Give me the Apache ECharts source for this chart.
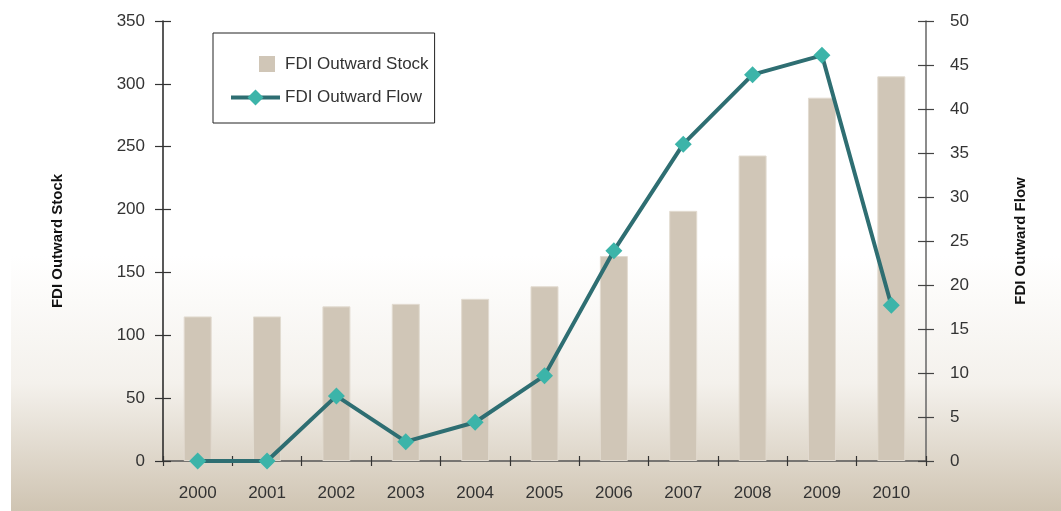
<!DOCTYPE html>
<html>
<head>
<meta charset="utf-8">
<script src="https://cdn.jsdelivr.net/npm/echarts@6/dist/echarts.min.js"></script>
<style>
html,body{margin:0;padding:0;background:#fff;}
#c{width:1061px;height:511px;}
</style>
</head>
<body>
<div id="c"></div>
<script>
var years = ['2000','2001','2002','2003','2004','2005','2006','2007','2008','2009','2010'];
var stockValues = [115, 115, 123, 125, 129, 139, 163, 199, 243, 289, 306];
var flowValues = [0, 0, 7.4, 2.2, 4.4, 9.7, 23.9, 36.0, 43.9, 46.1, 17.7];
var stockName = 'FDI Outward Stock';
var flowName = 'FDI Outward Flow';

var FONT = '"Liberation Sans Narrow", "Arial Narrow", "Liberation Sans", sans-serif';
var chart = echarts.init(document.getElementById('c'), null, {renderer: 'canvas'});

var labelStyle = {color: '#333', fontSize: 17, fontFamily: FONT};
var axisCol = '#555';

chart.setOption({
  animation: false,
  backgroundColor: 'transparent',
  graphic: [{
    type: 'rect', z: -10, silent: true,
    shape: {x: 11, y: 0, width: 1050, height: 511},
    style: {fill: new echarts.graphic.LinearGradient(0, 0, 0, 1, [
      {offset: 0, color: '#ffffff'},
      {offset: 0.5, color: '#ffffff'},
      {offset: 0.75, color: '#f4f1ec'},
      {offset: 1, color: '#cfc4b2'}
    ])}
  }],
  grid: {left: 163, right: 135, top: 21, bottom: 50, containLabel: false},
  legend: {
    left: 213, top: 33,
    orient: 'vertical',
    backgroundColor: 'rgba(255,255,255,0)',
    borderColor: '#222', borderWidth: 1, borderRadius: 0,
    padding: [21, 6, 17, 16],
    itemWidth: 49, itemHeight: 20, itemGap: 15,
    textStyle: {color: '#333', fontSize: 17, fontFamily: FONT},
    data: [
      {name: stockName,
       icon: 'path://M0,0L0.01,0L0,0.01Z M49,20L48.99,20L49,19.99Z M28,2L44,2L44,18L28,18Z',
       itemStyle: {color: '#d0c6b7', borderWidth: 0}},
      {name: flowName, lineStyle: {width: 4, color: '#2e6e72'}}
    ]
  },
  xAxis: [{
    type: 'category', data: years, position: 'bottom',
    boundaryGap: true,
    axisLine: {lineStyle: {color: axisCol, width: 1.5}},
    axisTick: {show: true, alignWithLabel: false, length: 5, lineStyle: {color: '#333', width: 1.2}},
    axisLabel: Object.assign({margin: 24}, labelStyle),
    splitLine: {show: false}
  }, {
    type: 'category', data: years, position: 'bottom',
    boundaryGap: true,
    axisLine: {show: false},
    axisTick: {show: true, inside: true, length: 5, lineStyle: {color: '#333', width: 1.2}},
    axisLabel: {show: false},
    splitLine: {show: false}
  }],
  yAxis: [{
    type: 'value', position: 'left', min: 0, max: 350, interval: 50,
    name: stockName, nameLocation: 'middle', nameGap: 98, nameRotate: 90,
    nameTextStyle: {color: '#111', fontSize: 15, fontWeight: 'bold', fontFamily: FONT},
    axisLine: {show: true, lineStyle: {color: '#222', width: 1.5}},
    axisTick: {show: true, length: 8, lineStyle: {color: '#333', width: 1.2}},
    axisLabel: Object.assign({margin: 18}, labelStyle),
    splitLine: {show: false}
  }, {
    type: 'value', position: 'right', min: 0, max: 50, interval: 5,
    name: flowName, nameLocation: 'middle', nameGap: 87, nameRotate: 90,
    nameTextStyle: {color: '#111', fontSize: 15, fontWeight: 'bold', fontFamily: FONT},
    axisLine: {show: true, lineStyle: {color: '#666', width: 1.5}},
    axisTick: {show: true, length: 8, lineStyle: {color: '#444', width: 1.2}},
    axisLabel: Object.assign({margin: 24}, labelStyle),
    splitLine: {show: false}
  }, {
    type: 'value', position: 'left', min: 0, max: 350, interval: 50,
    axisLine: {show: false},
    axisTick: {show: true, inside: true, length: 8, lineStyle: {color: '#333', width: 1.2}},
    axisLabel: {show: false}, splitLine: {show: false}
  }, {
    type: 'value', position: 'right', min: 0, max: 50, interval: 5,
    axisLine: {show: false},
    axisTick: {show: true, inside: true, length: 8, lineStyle: {color: '#444', width: 1.2}},
    axisLabel: {show: false}, splitLine: {show: false}
  }],
  series: [{
    name: stockName, type: 'bar', data: stockValues,
    xAxisIndex: 0, yAxisIndex: 0,
    barWidth: 28,
    itemStyle: {color: '#d0c6b7', borderColor: '#e2dbd0', borderWidth: 1},
    z: 1
  }, {
    name: flowName, type: 'line', data: flowValues,
    xAxisIndex: 0, yAxisIndex: 1,
    symbol: 'diamond', symbolSize: 17,
    lineStyle: {color: '#2e6e72', width: 4},
    itemStyle: {color: '#3cb4a9'},
    z: 5
  }]
});
</script>
</body>
</html>
